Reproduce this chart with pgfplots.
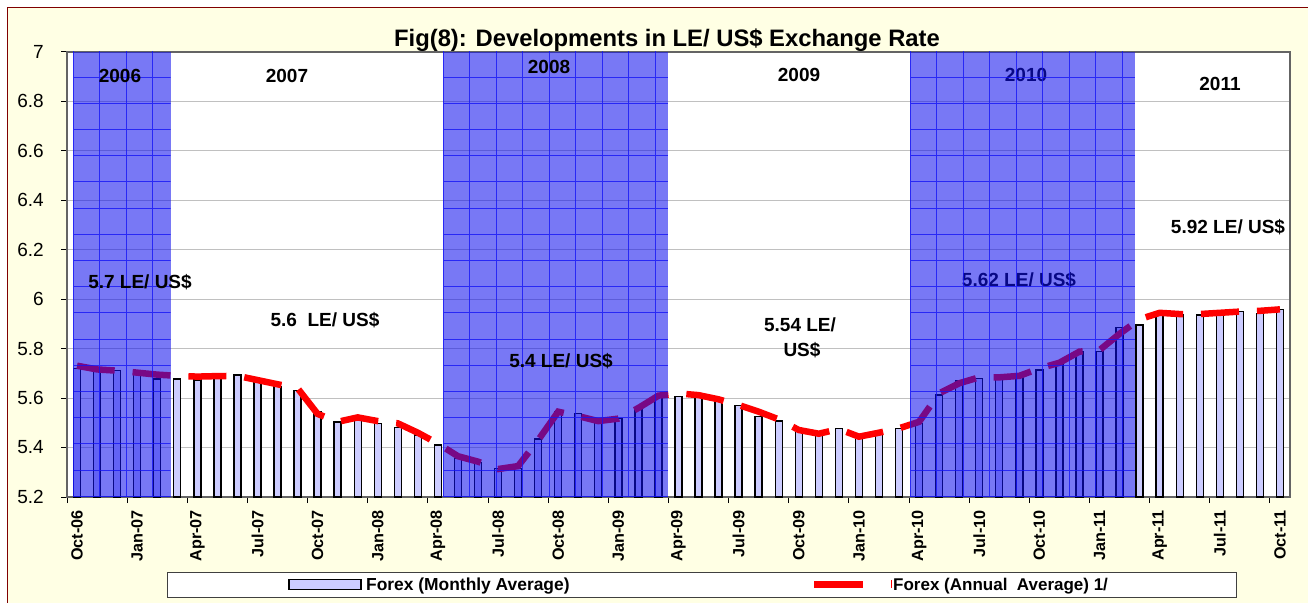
\documentclass[border=0pt]{standalone}
\usepackage{fontspec}
\setmainfont{Liberation Sans}
\usepackage{pgfplots}
\usepackage{pgfplotstable}
\pgfplotsset{compat=1.18}
\definecolor{bgyellow}{RGB}{255,255,228}
\definecolor{frame}{RGB}{128,0,0}
\definecolor{barfill}{RGB}{204,204,255}
\definecolor{bandblue}{RGB}{15,15,238}
\definecolor{gridblue}{RGB}{20,20,245}
\definecolor{gridgray}{RGB}{192,192,192}
\definecolor{boxgray}{RGB}{100,100,100}

\pgfplotstableread{
x bar line
0 5.720 5.731
1 5.707 5.716
2 5.711 5.711
3 5.700 5.703
4 5.677 5.695
5 5.677 5.690
6 5.673 5.687
7 5.680 5.689
8 5.693 5.690
9 5.677 5.673
10 5.646 5.656
11 5.630 5.640
12 5.545 5.536
13 5.504 5.504
14 5.522 5.522
15 5.498 5.507
16 5.482 5.498
17 5.451 5.460
18 5.410 5.416
19 5.356 5.365
20 5.339 5.343
21 5.316 5.313
22 5.316 5.325
23 5.434 5.430
24 5.545 5.545
25 5.538 5.527
26 5.511 5.507
27 5.518 5.517
28 5.559 5.560
29 5.606 5.610
30 5.606 5.619
31 5.612 5.612
32 5.592 5.595
33 5.569 5.572
34 5.525 5.545
35 5.508 5.514
36 5.471 5.471
37 5.451 5.456
38 5.478 5.475
39 5.444 5.444
40 5.460 5.460
41 5.478 5.478
42 5.498 5.504
43 5.612 5.619
44 5.669 5.660
45 5.680 5.684
46 5.684 5.684
47 5.693 5.690
48 5.714 5.720
49 5.747 5.743
50 5.788 5.788
51 5.788 5.794
52 5.885 5.860
53 5.896 5.919
54 5.936 5.945
55 5.936 5.940
56 5.936 5.940
57 5.943 5.945
58 5.950 5.950
59 5.943 5.953
60 5.959 5.959
}\fxdata

\begin{document}
\begin{tikzpicture}[x=1pt,y=1pt]
\useasboundingbox (0,0) rectangle (1308,602);
\fill[white] (0,0) rectangle (1308,602);
\filldraw[fill=bgyellow,draw=frame,line width=1.5pt] (7.5,-20) rectangle (1330,594.5);
\begin{axis}[
  at={(67pt,105pt)}, anchor=south west,
  scale only axis, width=1223pt, height=445pt,
  xmin=-0.5, xmax=60.5, ymin=5.2, ymax=7,
  axis background/.style={fill=white},
  axis line style={draw=boxgray, line width=1.2pt},
  tick pos=left, tick align=outside, major tick length=6pt,
  tick style={black, line width=1pt},
  ymajorgrids, major grid style={draw=gridgray, line width=1pt},
  ytick={5.2,5.4,5.6,5.8,6,6.2,6.4,6.6,6.8,7},
  yticklabels={5.2,5.4,5.6,5.8,6,6.2,6.4,6.6,6.8,7},
  yticklabel style={font=\fontsize{19}{19}\selectfont, anchor=east, inner sep=0pt},
  yticklabel shift=17pt,
  xtick={-0.5,2.5,...,59.5}, xticklabels={},
  extra x ticks={0,3,...,60},
  extra x tick labels={Oct-06,Jan-07,Apr-07,Jul-07,Oct-07,Jan-08,Apr-08,Jul-08,Oct-08,Jan-09,Apr-09,Jul-09,Oct-09,Jan-10,Apr-10,Jul-10,Oct-10,Jan-11,Apr-11,Jul-11,Oct-11},
  extra x tick style={major tick length=0pt},
  xticklabel style={rotate=90, anchor=east, inner sep=0pt, font=\bfseries\fontsize{16.2}{16.2}\selectfont},
  xticklabel shift=13pt,
]
\addplot[ybar, bar width=7pt, fill=barfill, draw=black, line width=1.4pt] table[x=x,y=bar]{\fxdata};
\addplot[red, line width=6.5pt, dash pattern=on 38pt off 18pt, mark=none] table[x=x,y=line]{\fxdata};
\end{axis}

% texts under the 2010 band
\node[anchor=base, font=\bfseries\fontsize{19}{19}\selectfont] at (1026,520) {2010};
\node[anchor=base, font=\bfseries\fontsize{19}{19}\selectfont] at (1019,315) {5.62 LE/ US\$};

% shaded year bands
\foreach \a/\b in {73/170.5, 443/668.3, 910/1135}{
  \fill[bandblue, fill opacity=0.56] (\a,105) rectangle (\b,550);
  \begin{scope}
    \clip (\a,105) rectangle (\b,550);
    \draw[gridblue, draw opacity=0.8, line width=0.9pt, xstep=26.5, ystep=26.2, shift={(\a,525)}] (0,-430) grid (\b-\a,30);
  \end{scope}
}

% annotations
\begin{scope}[every node/.style={anchor=base, font=\bfseries\fontsize{19}{19}\selectfont}]
\node at (120,519.4) {2006};
\node at (287,519.4) {2007};
\node at (549,528) {2008};
\node at (799,520) {2009};
\node at (1220,511.3) {2011};
\node at (140,313) {5.7 LE/ US\$};
\node at (325,275) {5.6\ \ LE/ US\$};
\node at (561,234) {5.4 LE/ US\$};
\node at (800,270) {5.54 LE/};
\node at (802,245) {US\$};
\node at (1228,368) {5.92 LE/ US\$};
\end{scope}

% title
\node[anchor=base, font=\bfseries\fontsize{23.8}{23.8}\selectfont] at (667,555.3) {Fig(8): Developments in LE/ US\$ Exchange Rate};

% legend
\filldraw[fill=white, draw=black!75, line width=1pt] (167,5) rectangle (1236,30);
\filldraw[fill=barfill, draw=black, line width=1.5pt] (289,12.5) rectangle (361,22.5);
\node[anchor=base west, inner sep=0pt, font=\bfseries\fontsize{17.4}{17.4}\selectfont] at (366,11.5) {Forex (Monthly Average)};
\draw[red, line width=7pt] (814,17.5) -- (863,17.5);
\fill[red] (890.5,14) rectangle (892,22);
\node[anchor=base west, inner sep=0pt, font=\bfseries\fontsize{17}{17}\selectfont] at (893,11.5) {Forex (Annual\ \ Average) 1/};
\end{tikzpicture}
\end{document}
